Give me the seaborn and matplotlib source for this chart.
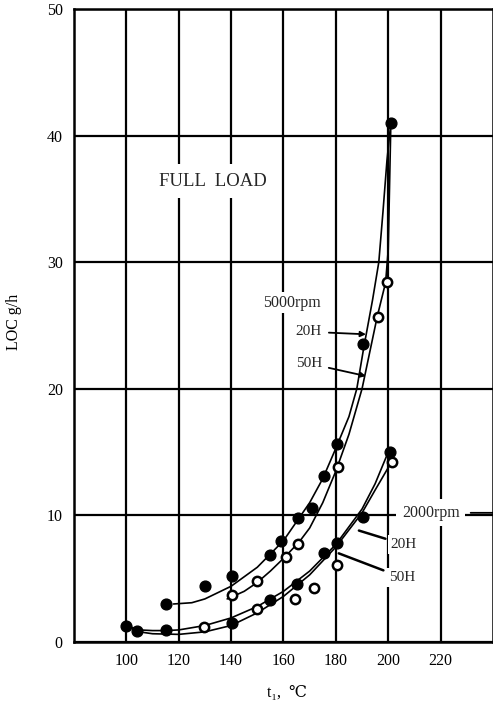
import pandas as pd
import matplotlib
matplotlib.use("Agg")
import matplotlib.pyplot as plt
import seaborn as sns

# measured points (t1 in deg C, LOC in g/h)
t_5000_20H = [115, 130, 140.5, 155, 159, 165.5, 171, 175.5, 180.5, 190.5, 201]
loc_5000_20H = [3.0, 4.4, 5.2, 6.9, 8.0, 9.8, 10.6, 13.1, 15.6, 23.5, 41.0]
t_5000_50H = [140.5, 150, 161, 165.5, 181, 196, 199.5]
loc_5000_50H = [3.7, 4.8, 6.7, 7.7, 13.8, 25.7, 28.4]
t_2000_20H = [100, 104, 115, 140.5, 155, 165, 175.5, 180.5, 190.5, 200.5]
loc_2000_20H = [1.3, 0.9, 0.95, 1.5, 3.3, 4.6, 7.0, 7.8, 9.9, 15.0]
t_2000_50H = [129.5, 150, 164.5, 171.5, 180.5, 201.5]
loc_2000_50H = [1.2, 2.6, 3.4, 4.3, 6.1, 14.2]

# hand drawn fitted curves
curve_t_5000_20H = [118, 125, 130, 140, 150, 160, 170, 175, 180, 185, 188, 190.7, 194, 196.4, 198, 199.5, 201]
curve_loc_5000_20H = [3.0, 3.1, 3.4, 4.4, 5.9, 8.0, 11.0, 12.9, 15.3, 17.8, 20, 23.3, 27, 30, 34, 38, 41]
curve_t_5000_50H = [138.5, 145, 150, 155, 160, 166, 170, 175, 180, 185, 190, 195.8, 199, 200, 200.5, 201]
curve_loc_5000_50H = [3.4, 4.0, 4.7, 5.6, 6.6, 7.9, 9.0, 11.0, 13.5, 16.4, 20, 25.7, 28.4, 31, 36, 41]
curve_t_2000_20H = [100, 105, 110, 115, 120, 130, 140, 150, 160, 170, 180, 190, 195, 200]
curve_loc_2000_20H = [1.3, 0.95, 0.9, 0.9, 0.95, 1.3, 1.9, 2.8, 4.0, 5.6, 7.7, 10.5, 12.5, 15.0]
curve_t_2000_50H = [100, 105, 110, 120, 130, 140, 150, 160, 170, 180, 190, 195, 201.5]
curve_loc_2000_50H = [1.3, 0.8, 0.65, 0.6, 0.8, 1.3, 2.3, 3.6, 5.3, 7.5, 10.2, 12.0, 14.3]

x_ticks = [100, 120, 140, 160, 180, 200, 220]
y_ticks = [0, 10, 20, 30, 40, 50]

sns.set_theme(style="white")
plt.rcParams['font.family'] = ['Liberation Serif', 'DejaVu Serif']

fig = plt.figure(figsize=(4.93, 7.05), dpi=100)
ax = fig.add_axes([0.150, 0.0894, 0.85, 0.898])

# curves
for ct, cl in [(curve_t_5000_20H, curve_loc_5000_20H), (curve_t_5000_50H, curve_loc_5000_50H),
               (curve_t_2000_20H, curve_loc_2000_20H), (curve_t_2000_50H, curve_loc_2000_50H)]:
    df = pd.DataFrame({'t': ct, 'loc': cl})
    sns.lineplot(data=df, x='t', y='loc', sort=False, estimator=None, color='black',
                 linewidth=1.2, ax=ax, zorder=4)

# filled markers (20H) and open markers (50H)
for pt, pl in [(t_5000_20H, loc_5000_20H), (t_2000_20H, loc_2000_20H)]:
    df = pd.DataFrame({'t': pt, 'loc': pl})
    sns.scatterplot(data=df, x='t', y='loc', color='black', edgecolor='black', s=60,
                    linewidth=1, ax=ax, zorder=5)
for pt, pl in [(t_5000_50H, loc_5000_50H), (t_2000_50H, loc_2000_50H)]:
    df = pd.DataFrame({'t': pt, 'loc': pl})
    sns.scatterplot(data=df, x='t', y='loc', facecolor='white', edgecolor='black', s=45,
                    linewidth=1.8, ax=ax, zorder=5)

ax.set_xlim(80, 240)
ax.set_ylim(0, 50)
ax.set_xticks(x_ticks)
ax.set_yticks(y_ticks)
ax.grid(True, color='black', linewidth=1.6)
ax.set_axisbelow(True)
for s in ax.spines.values():
    s.set_color('black')
    s.set_linewidth(1.8)
ax.tick_params(length=0, pad=8, labelsize=11.5, colors='black')

ax.set_xlabel("t₁,  ℃", fontsize=11.5, color='black')
ax.set_ylabel("LOC g/h", fontsize=11.5, color='black')
ax.xaxis.set_label_coords(0.508, -0.068)
ax.yaxis.set_label_coords(-0.124, 0.506)

box = dict(facecolor='white', edgecolor='none', pad=2)
ax.text(133, 36.4, "FULL  LOAD", fontsize=13.5, ha='center', va='center',
        bbox=dict(facecolor='white', edgecolor='none', pad=6), zorder=3)
ax.text(163.2, 26.8, "5000rpm", fontsize=11.5, ha='center', va='center', bbox=box, zorder=3)
ax.annotate("20H", xy=(191.5, 24.3), xytext=(174.7, 24.5), fontsize=11, ha='right', va='center',
            bbox=box, zorder=3,
            arrowprops=dict(arrowstyle='-|>', color='black', lw=1.3, mutation_scale=8, shrinkA=3, shrinkB=0))
ax.annotate("50H", xy=(191.5, 21.0), xytext=(174.7, 22.0), fontsize=11, ha='right', va='center',
            bbox=box, zorder=3,
            arrowprops=dict(arrowstyle='-|>', color='black', lw=1.3, mutation_scale=8, shrinkA=3, shrinkB=0))
ax.annotate("2000rpm", xy=(1.0, 10.2), xycoords=('axes fraction', 'data'),
            xytext=(216.2, 10.2), textcoords='data',
            fontsize=11.5, ha='center', va='center',
            bbox=dict(facecolor='white', edgecolor='none', pad=4), zorder=3,
            arrowprops=dict(arrowstyle='-', color='black', lw=1.3, shrinkA=4, shrinkB=0))
ax.annotate("20H", xy=(188.8, 8.8), xytext=(201, 7.7), fontsize=11, ha='left', va='center',
            bbox=box, zorder=3,
            arrowprops=dict(arrowstyle='-', color='black', lw=1.8, shrinkA=2, shrinkB=0))
ax.annotate("50H", xy=(181.1, 7.0), xytext=(200.2, 5.1), fontsize=11, ha='left', va='center',
            bbox=box, zorder=3,
            arrowprops=dict(arrowstyle='-', color='black', lw=1.8, shrinkA=2, shrinkB=0))

fig.savefig("out.png", dpi=100)
